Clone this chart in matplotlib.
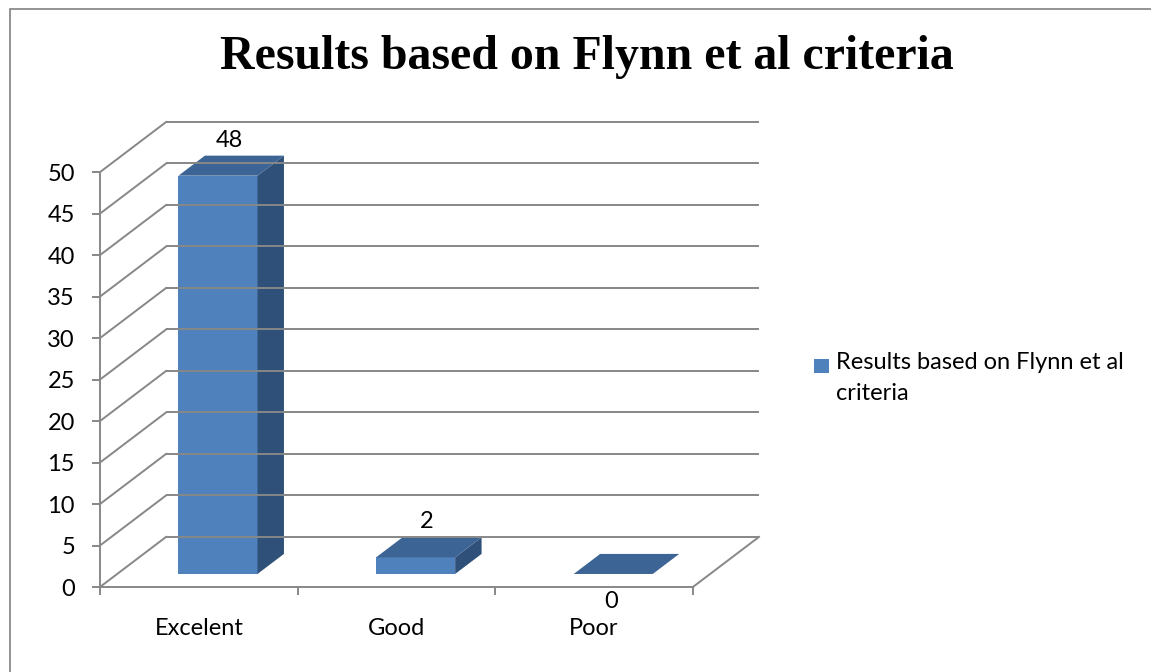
import matplotlib
matplotlib.use("Agg")
import matplotlib.pyplot as plt
from matplotlib.patches import Polygon, Rectangle

# ---- data ----
categories = ["Excelent", "Good", "Poor"]
values = [48, 2, 0]
y_ticks = [0, 5, 10, 15, 20, 25, 30, 35, 40, 45, 50]
title_text = "Results based on Flynn et al criteria"
legend_text = "Results based on Flynn et al\ncriteria"

# ---- style ----
W, H = 1151, 672
FRONT = "#4F81BD"
TOP = "#3C6494"
SIDE = "#2F5078"
GRID = "#878787"
FONT = ["Lato", "DejaVu Sans"]
FS = 17

fig = plt.figure(figsize=(W / 100, H / 100), dpi=100)

# axes covering front plane plus the depth offset
ax = fig.add_axes([100 / W, (H - 587) / H, (759 - 100) / W, (587 - 122) / H])
n = len(categories)
ymax = y_ticks[-1]
DX = 0.3345   # depth offset in category units
DY = 6.04     # depth offset in value units
ax.set_xlim(0, n + DX)
ax.set_ylim(0, ymax + DY)
ax.set_facecolor("none")

lw = 1.4
# back wall & left wall gridlines
for v in y_ticks:
    ax.plot([DX, n + DX], [v + DY, v + DY], color=GRID, lw=lw, solid_capstyle="butt", clip_on=False)
    ax.plot([0, DX], [v, v + DY], color=GRID, lw=lw, clip_on=False)
# floor right edge
ax.plot([n, n + DX], [0, DY], color=GRID, lw=lw, clip_on=False)

# spines / ticks
for s in ["top", "right"]:
    ax.spines[s].set_visible(False)
ax.spines["left"].set_bounds(0, ymax)
ax.spines["bottom"].set_bounds(0, n)
for s in ["left", "bottom"]:
    ax.spines[s].set_color(GRID)
    ax.spines[s].set_linewidth(lw)
ax.set_yticks(y_ticks)
ax.set_yticklabels([str(v) for v in y_ticks], fontfamily=FONT, fontsize=FS)
ax.tick_params(axis="y", direction="out", length=6, width=lw, color=GRID, pad=12)
ax.set_xticks(range(n + 1))
ax.set_xticklabels([""] * (n + 1))
ax.tick_params(axis="x", which="major", direction="out", length=6, width=lw, color=GRID)
ax.set_xticks([i + 0.5 for i in range(n)], minor=True)
ax.set_xticklabels(categories, minor=True, fontfamily=FONT, fontsize=FS)
ax.tick_params(axis="x", which="minor", length=0, pad=22)

# bars
bw = 0.40
f0, f1 = 0.26, 0.66
for i, v in enumerate(values):
    x0 = i + (1 - bw) / 2 + 0.01
    x1 = x0 + bw
    ox0, oy0 = f0 * DX, f0 * DY
    ox1, oy1 = f1 * DX, f1 * DY
    if v > 0:
        ax.add_patch(Rectangle((x0 + ox0, oy0), bw, v, facecolor=FRONT, edgecolor="none", clip_on=False))
        ax.add_patch(Polygon([(x1 + ox0, oy0), (x1 + ox1, oy1), (x1 + ox1, v + oy1), (x1 + ox0, v + oy0)],
                             closed=True, facecolor=SIDE, edgecolor="none", clip_on=False))
    ax.add_patch(Polygon([(x0 + ox0, v + oy0), (x1 + ox0, v + oy0), (x1 + ox1, v + oy1), (x0 + ox1, v + oy1)],
                         closed=True, facecolor=TOP, edgecolor="none", clip_on=False))
    if v > 0:
        fm = (f0 + f1) / 2
        ax.annotate(str(v), xy=(i + 0.5 + fm * DX, v + oy1), xytext=(0, 9), textcoords="offset pixels",
                    ha="center", va="baseline", fontfamily=FONT, fontsize=FS, annotation_clip=False)
    else:
        ax.annotate(str(v), xy=(i + 0.5 + ox0, 0), xytext=(0, -4), textcoords="offset pixels",
                    ha="center", va="top", fontfamily=FONT, fontsize=FS, annotation_clip=False)

# title
fig.text(587 / W, 1 - 57 / H, title_text, ha="center", va="center",
         fontfamily=["Liberation Serif", "DejaVu Serif"], fontweight="bold", fontsize=34.5)

# legend
fig.add_artist(Rectangle((814 / W, 1 - 373 / H), 15 / W, 14 / H, transform=fig.transFigure,
                         facecolor=FRONT, edgecolor="none"))
fig.text(836 / W, 1 - 352 / H, legend_text, ha="left", va="top", fontfamily=FONT,
         fontsize=FS, linespacing=1.6)

# outer chart border
fig.add_artist(Rectangle((9.5 / W, -0.05), 1.2, 1 - 9 / H + 0.05, transform=fig.transFigure,
                         facecolor="none", edgecolor="#808080", lw=1.2))

fig.savefig("out.png", dpi=100)
